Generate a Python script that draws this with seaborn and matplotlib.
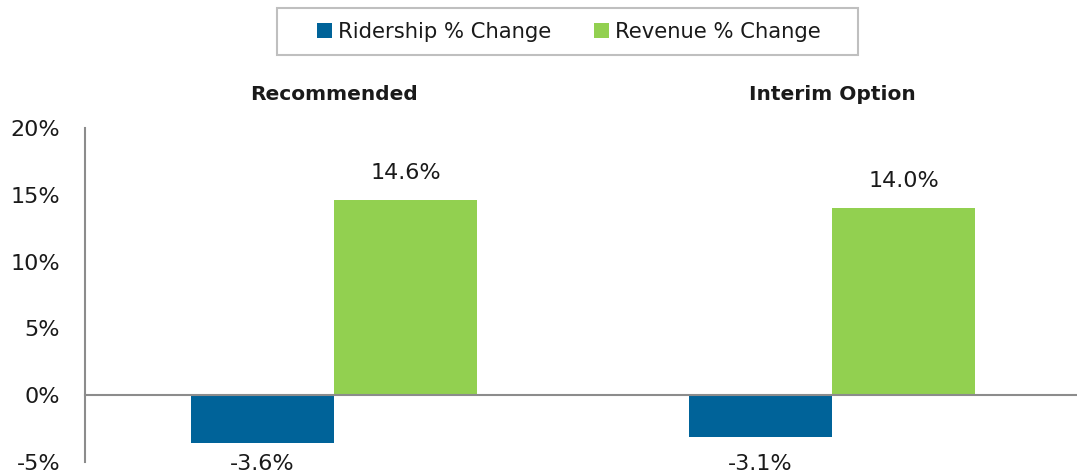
import matplotlib
matplotlib.use("Agg")
import matplotlib.pyplot as plt
import matplotlib.patches as mpatches
import seaborn as sns
import pandas as pd

# Fare scenario results
scenarios = ["Recommended", "Interim Option"]
metrics = ["Ridership % Change", "Revenue % Change"]
ridership_change = [-3.6, -3.1]
revenue_change = [14.6, 14.0]
y_ticks = [-5, 0, 5, 10, 15, 20]

colors = ["#006399", "#92D050"]
grey = "#8c8c8c"
W, H = 1077, 474

sns.set_theme(style="white")
plt.rcParams["font.family"] = ["DejaVu Sans"]

df = pd.DataFrame({
    "scenario": scenarios * 2,
    "metric": [metrics[0]] * 2 + [metrics[1]] * 2,
    "value": ridership_change + revenue_change,
})

fig = plt.figure(figsize=(W / 100, H / 100), dpi=100)
ax = fig.add_axes([85 / W, 12 / H, (1081 - 85) / W, (462 - 128) / H])

sns.barplot(data=df, x="scenario", y="value", hue="metric", hue_order=metrics,
            order=scenarios, palette=colors, width=0.574, saturation=1,
            edgecolor="none", linewidth=0, ax=ax, legend=True)

ax.set_xlim(-0.5, 1.5)
ax.set_ylim(-5, 20)
ax.set_yticks(y_ticks)
ax.set_yticklabels([f"{t}%" for t in y_ticks], fontsize=16, color="#1a1a1a")
ax.set_xlabel("")
ax.set_ylabel("")

# Horizontal axis sits on the zero line with a single divider tick between groups
for side in ["top", "right"]:
    ax.spines[side].set_visible(False)
ax.spines["bottom"].set_position(("data", 0))
ax.spines["bottom"].set_color(grey)
ax.spines["bottom"].set_linewidth(1.5)
ax.spines["left"].set_color(grey)
ax.spines["left"].set_linewidth(1.5)
ax.set_xticks([0.5])
ax.set_xticklabels([""])
ax.tick_params(axis="x", direction="out", length=6, width=1.5, color=grey)
ax.tick_params(axis="y", direction="out", length=6, width=1.5, color=grey, pad=12)

# Value labels: above positive bars, along the bottom edge for negative bars
for container in ax.containers:
    vals = container.datavalues
    labels = [f"{v:.1f}%" for v in vals]
    if vals[0] >= 0:
        ax.bar_label(container, labels=labels, padding=12, fontsize=16, color="#1a1a1a")
    else:
        for bar, lab in zip(container.patches, labels):
            ax.text(bar.get_x() + bar.get_width() / 2, -5.15, lab, ha="center",
                    va="center", fontsize=16, color="#1a1a1a", clip_on=False)

# Scenario headings above each group
for i, name in enumerate(scenarios):
    ax.text(i, 1.0 + 33 / 334, name, transform=ax.get_xaxis_transform(),
            ha="center", va="center", fontsize=14.5, fontweight="bold", color="#1a1a1a")

# Legend entries centred in a wide box along the top
leg = ax.legend(loc="center", bbox_to_anchor=(569 / W, 1 - 32 / H),
                bbox_transform=fig.transFigure, ncol=2, frameon=False,
                fontsize=15.2, handlelength=0.7, handleheight=0.7, handletextpad=0.3,
                columnspacing=2.0, borderpad=0, borderaxespad=0)
for t in leg.get_texts():
    t.set_color("#1a1a1a")
fig.patches.append(mpatches.Rectangle((277 / W, 1 - 55 / H), (858 - 277) / W, 47 / H,
                                      transform=fig.transFigure, fill=False,
                                      edgecolor="#bfbfbf", linewidth=1.5))

fig.savefig("out.png", dpi=100)
